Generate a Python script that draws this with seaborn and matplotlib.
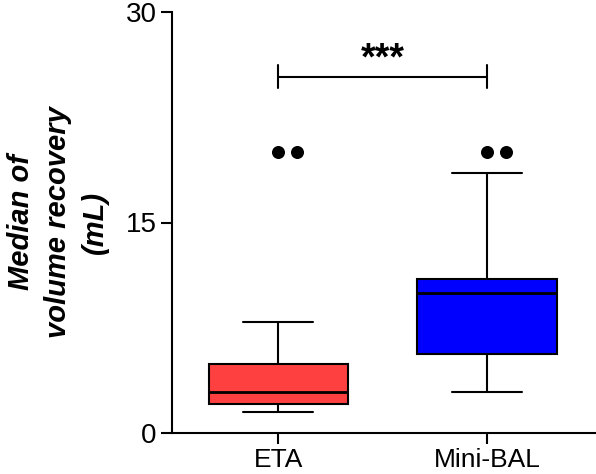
import matplotlib
matplotlib.use('Agg')
import matplotlib.pyplot as plt
import seaborn as sns

# box summary
groups = ['ETA', 'Mini-BAL']
whisker_low = [1.5, 2.9]
q1 = [2.1, 5.6]
medians = [2.9, 10.0]
q3 = [4.9, 11.0]
whisker_high = [7.9, 18.5]
outliers = [[20, 20], [20, 20]]
box_colors = ['#FF4040', '#0000FF']
y_ticks = [0, 15, 30]
signif = '***'
signif_y = 25.4

sns.set_style('ticks')
plt.rcParams['font.family'] = ['Liberation Sans', 'DejaVu Sans']
plt.rcParams['text.color'] = 'black'
plt.rcParams['axes.labelcolor'] = 'black'

fig = plt.figure(figsize=(5.96, 4.74), dpi=100)
ax = fig.add_axes([172 / 596, 1 - 433 / 474, (596 - 172) / 596 + 0.01, (433 - 12) / 474])

stats = []
for i, g in enumerate(groups):
    stats.append({'label': g, 'whislo': whisker_low[i], 'q1': q1[i], 'med': medians[i],
                  'q3': q3[i], 'whishi': whisker_high[i], 'fliers': []})

lw = 1.5
bp = ax.bxp(stats, positions=range(len(groups)), widths=0.67, capwidths=0.335,
            patch_artist=True, showfliers=False,
            boxprops=dict(linewidth=lw, edgecolor='black'),
            whiskerprops=dict(linewidth=lw, color='black'),
            capprops=dict(linewidth=lw, color='black'),
            medianprops=dict(linewidth=lw + 0.5, color='black'))
for patch, c in zip(bp['boxes'], box_colors):
    patch.set_facecolor(c)

# outliers drawn side by side
for i, vals in enumerate(outliers):
    xs = [i + k * 0.09 for k in range(len(vals))]
    ax.scatter(xs, vals, s=88, color='black', zorder=5, linewidths=0)

# significance bracket
ax.plot([0, 1], [signif_y, signif_y], color='black', lw=lw)
for x in (0, 1):
    ax.plot([x, x], [signif_y - 0.8, signif_y + 0.8], color='black', lw=lw)
ax.text(0.5, signif_y - 0.1, signif, ha='center', va='bottom', fontsize=27,
        fontweight='bold', color='black')

ax.set_xlim(-0.51, 1.55)
ax.set_ylim(0, 30)
ax.set_yticks(y_ticks)
ax.set_xticks(range(len(groups)))
ax.set_xticklabels(groups)
ax.tick_params(axis='both', labelsize=20, width=1.5, length=8, color='black', labelcolor='black')
ax.tick_params(axis='y', pad=3)
ax.tick_params(axis='x', pad=3, labelsize=19)
ax.set_ylabel('Median of\nvolume recovery\n(mL)', fontsize=21, fontweight='bold',
              fontstyle='italic', linespacing=1.4, labelpad=12, color='black')
for s in ('left', 'bottom'):
    ax.spines[s].set_linewidth(1.5)
    ax.spines[s].set_color('black')
sns.despine(ax=ax)

fig.savefig('out.png', dpi=100)
